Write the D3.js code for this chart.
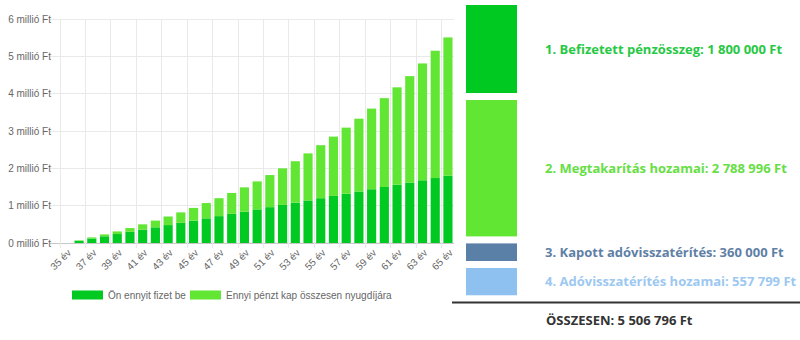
<!DOCTYPE html>
<html>
<head>
<meta charset="utf-8">
<script src="https://cdn.jsdelivr.net/npm/d3@7/dist/d3.min.js"></script>
<style>
  html, body { margin: 0; padding: 0; background: #fff; }
  svg { display: block; }
</style>
</head>
<body>
<svg id="chart" width="800" height="340"></svg>
<script>
// Ages on the x axis
const ages = [35,36,37,38,39,40,41,42,43,44,45,46,47,48,49,50,51,52,53,54,55,56,57,58,59,60,61,62,63,64,65];
// Cumulative amount paid in (Ft)
const paidIn = [0,60000,120000,180000,240000,300000,360000,420000,480000,540000,600000,660000,720000,780000,840000,900000,960000,1020000,1080000,1140000,1200000,1260000,1320000,1380000,1440000,1500000,1560000,1620000,1680000,1740000,1800000];
// Total pension value at each age (Ft)
const totalValue = [0,70000,150000,230000,310000,400000,500000,600000,710000,820000,940000,1070000,1200000,1340000,1490000,1650000,1820000,2000000,2190000,2400000,2620000,2850000,3090000,3330000,3600000,3880000,4170000,4470000,4810000,5150000,5506796];
// Y axis ticks (millió Ft)
const yTicks = [0,1,2,3,4,5,6];
// Legend labels
const seriesNames = ["Ön ennyit fizet be", "Ennyi pénzt kap összesen nyugdíjára"];
// Summary breakdown
const summaryLabels = ["1. Befizetett pénzösszeg", "2. Megtakarítás hozamai", "3. Kapott adóvisszatérítés", "4. Adóvisszatérítés hozamai"];
const summaryValues = [1800000, 2788996, 360000, 557799];
const totalLabel = "ÖSSZESEN";
const totalAmount = 5506796;

const colors = { paid: "#00c921", growth: "#62e634" };
const boxColors = ["#00c921", "#62e634", "#5b80a8", "#8fc1f0"];
const textColors = ["#27c844", "#66de45", "#5f7fa6", "#9cc8f1"];

const svg = d3.select("#chart");
const fmt = v => d3.format(",")(v).replace(/,/g, " ");

// ---- Bar chart ----
const plot = { left: 60, right: 454.3, top: 19, bottom: 243 };
const x = d3.scaleBand().domain(ages).range([plot.left, plot.right]).paddingInner(0.28).paddingOuter(0.14);
const step = x.step();
const y = d3.scaleLinear().domain([0, 6000000]).range([plot.bottom, plot.top]);

const grid = svg.append("g");
// horizontal grid lines with tick marks reaching into the label area
grid.selectAll("line.h").data(yTicks).join("line")
  .attr("x1", plot.left - 10).attr("x2", plot.right)
  .attr("y1", d => y(d * 1e6)).attr("y2", d => y(d * 1e6))
  .attr("stroke", d => d === 0 ? "#c8c8c8" : "#e9e9e9").attr("stroke-width", 1)
  .attr("shape-rendering", "crispEdges");
// vertical grid lines between categories, at every shown label
const shownAges = ages.filter((a, i) => i % 2 === 0);
grid.selectAll("line.v").data(shownAges).join("line")
  .attr("x1", d => x(d) - step * 0.14).attr("x2", d => x(d) - step * 0.14)
  .attr("y1", plot.top).attr("y2", plot.bottom + 5)
  .attr("stroke", "#e9e9e9").attr("stroke-width", 1)
  .attr("shape-rendering", "crispEdges");

// y labels
svg.append("g").selectAll("text").data(yTicks).join("text")
  .attr("x", plot.left - 9).attr("y", d => y(d * 1e6))
  .attr("dy", "0.35em").attr("text-anchor", "end")
  .attr("font-family", "Liberation Sans, Arial, sans-serif").attr("font-size", 10)
  .attr("fill", "#666").text(d => d + " millió Ft");

// x labels (every other age)
svg.append("g").selectAll("text").data(shownAges).join("text")
  .attr("transform", d => `translate(${x(d) + x.bandwidth() / 2 + 3},${plot.bottom + 8}) rotate(-45)`)
  .attr("text-anchor", "end").attr("dy", "0.35em")
  .attr("font-family", "Liberation Sans, Arial, sans-serif").attr("font-size", 10)
  .attr("fill", "#666").text(d => d + " év");

// stacked bars
const rows = ages.map((a, i) => ({ age: a, paid: paidIn[i], growth: totalValue[i] - paidIn[i] }));
const stack = d3.stack().keys(["paid", "growth"])(rows);
svg.append("g").selectAll("g").data(stack).join("g")
  .attr("fill", d => colors[d.key])
  .selectAll("rect").data(d => d).join("rect")
  .attr("x", d => x(d.data.age)).attr("width", x.bandwidth())
  .attr("y", d => y(d[1])).attr("height", d => Math.max(0, y(d[0]) - y(d[1])));

// legend
const legend = svg.append("g").attr("font-family", "Liberation Sans, Arial, sans-serif").attr("font-size", 10).attr("fill", "#666");
const legendX = [72, 190];
seriesNames.forEach((name, i) => {
  legend.append("rect").attr("x", legendX[i]).attr("y", 290.5).attr("width", 31).attr("height", 9)
    .attr("fill", i === 0 ? colors.paid : colors.growth);
  legend.append("text").attr("x", legendX[i] + 36).attr("y", 295).attr("dy", "0.35em").text(name);
});

// ---- Summary panel ----
const h = d3.scaleLinear().domain([0, 1e6]).range([0, 48.9]);
let yy = 5;
const gap = 7;
const panel = svg.append("g");
summaryValues.forEach((v, i) => {
  const hh = h(v);
  panel.append("rect").attr("x", 466).attr("y", yy).attr("width", 51).attr("height", hh).attr("fill", boxColors[i]);
  panel.append("text").attr("x", 545).attr("y", yy + hh / 2).attr("dy", "0.35em")
    .attr("font-family", "Open Sans, sans-serif").attr("font-weight", 700).attr("font-size", 13)
    .attr("fill", textColors[i]).text(`${summaryLabels[i]}: ${fmt(v)} Ft`);
  yy += hh + gap;
});
panel.append("line").attr("x1", 452).attr("x2", 800).attr("y1", 302.5).attr("y2", 302.5)
  .attr("stroke", "#333").attr("stroke-width", 2);
panel.append("text").attr("x", 546).attr("y", 320).attr("dy", "0.35em")
  .attr("font-family", "Open Sans, sans-serif").attr("font-weight", 700).attr("font-size", 13)
  .attr("fill", "#333").text(`${totalLabel}: ${fmt(totalAmount)} Ft`);
</script>
</body>
</html>
